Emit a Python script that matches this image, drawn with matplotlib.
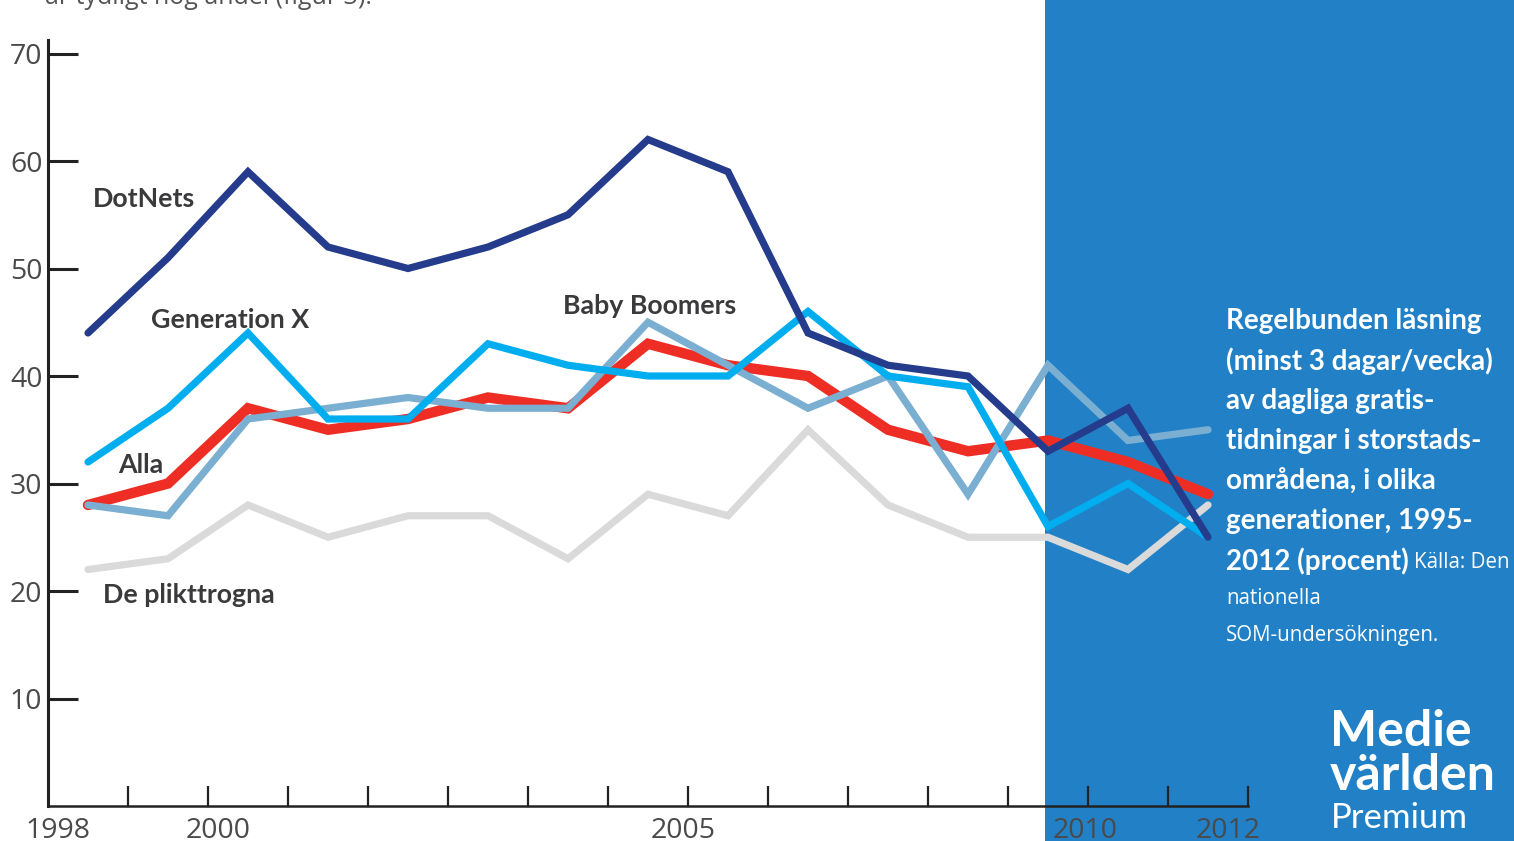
import matplotlib.pyplot as plt
from matplotlib.patches import Rectangle

W, H = 1514, 841

years = list(range(1998, 2013))
dotnets = [44, 51, 59, 52, 50, 52, 55, 62, 59, 44, 41, 40, 33, 37, 25]
gen_x = [32, 37, 44, 36, 36, 43, 41, 40, 40, 46, 40, 39, 26, 30, 25]
alla = [28, 30, 37, 35, 36, 38, 37, 43, 41, 40, 35, 33, 34, 32, 29]
boomers = [28, 27, 36, 37, 38, 37, 37, 45, 41, 37, 40, 29, 41, 34, 35]
plikttrogna = [22, 23, 28, 25, 27, 27, 23, 29, 27, 35, 28, 25, 25, 22, 28]

year_labels = ["1998", "2000", "2005", "2010", "2012"]
year_label_pos = [1997.63, 1999.63, 2005.44, 2010.46, 2012.25]

y_ticks = [10, 20, 30, 40, 50, 60, 70]

PANEL = "#2281c6"
TXT = "#3a3a3c"
AXC = "#222222"
BOLD = ["Lato", "DejaVu Sans"]

plt.rcParams['font.family'] = ['Open Sans', 'DejaVu Sans']

fig = plt.figure(figsize=(W / 100, H / 100), dpi=100)
fig.patch.set_facecolor("white")

# blue panel on the right
fig.patches.append(Rectangle((1045 / W, 0), (W - 1045) / W, 1, transform=fig.transFigure,
                             facecolor=PANEL, edgecolor="none", zorder=-1))

ax = fig.add_axes([48 / W, (H - 806) / H, 1200 / W, (806 - 40) / H])
ax.patch.set_alpha(0)
ax.set_xlim(1997.5, 2012.5)
ax.set_ylim(0, (806 - 40) / 10.75)

series = [
    (plikttrogna, "#dadada", 5.2),
    (alla, "#ee2e24", 7.5),
    (boomers, "#7bafd2", 5.2),
    (gen_x, "#00aeef", 5.2),
    (dotnets, "#253b8c", 5.2),
]
for vals, col, lw in series:
    ax.plot(years, vals, color=col, lw=lw, solid_capstyle="round",
            solid_joinstyle="miter", clip_on=False)

for s in ["top", "right"]:
    ax.spines[s].set_visible(False)
ax.spines["left"].set_linewidth(2.2)
ax.spines["bottom"].set_linewidth(1.8)
ax.spines["left"].set_color(AXC)
ax.spines["bottom"].set_color(AXC)

ax.set_yticks(y_ticks)
ax.set_yticklabels([str(v) for v in y_ticks])
ax.tick_params(axis="y", direction="in", length=21.6, width=2.2, color=AXC,
               labelsize=20.5, labelcolor="#4a4a4a", pad=4)
ax.set_xticks([y + 0.5 for y in years])
ax.set_xticklabels([])
ax.tick_params(axis="x", direction="in", length=14.4, width=1.6, color=AXC)

for lab, pos in zip(year_labels, year_label_pos):
    ax.text(pos, -0.014, lab, transform=ax.get_xaxis_transform(), ha="center", va="top",
            fontsize=20.5, color="#4a4a4a")

# series names
names = [
    ("DotNets", 1998.06, 56.45),
    ("Generation X", 1998.79, 45.2),
    ("Alla", 1998.38, 31.75),
    ("Baby Boomers", 2003.94, 46.5),
    ("De plikttrogna", 1998.19, 19.65),
]
for lab, x, y in names:
    ax.text(x, y, lab, ha="left", va="center", fontsize=19.3, fontweight="bold", color=TXT,
            family=BOLD)

# clipped text from the page above
fig.text(45 / W, 1 - 4 / H, "är tydligt hög andel (figur 3).", ha="left", va="baseline",
         fontsize=18, color="#555555")

# panel text
rubrik = ["Regelbunden läsning", "(minst 3 dagar/vecka)", "av dagliga gratis-",
          "tidningar i storstads-", "områdena, i olika", "generationer, 1995-",
          "2012 (procent)"]
for i, line in enumerate(rubrik):
    fig.text(1226 / W, 1 - (321 + 40 * i) / H, line, ha="left", va="center",
             fontsize=20, fontweight="bold", color="white", family=BOLD)
fig.text(1414 / W, 1 - 562 / H, "Källa: Den", ha="left", va="center", fontsize=14.8, color="white")
fig.text(1226 / W, 1 - 599 / H, "nationella", ha="left", va="center", fontsize=14.8, color="white")
fig.text(1226 / W, 1 - 636 / H, "SOM-undersökningen.", ha="left", va="center", fontsize=14.8,
         color="white")

# logo
fig.text(1330 / W, 1 - 746 / H, "Medie", ha="left", va="baseline", fontsize=36,
         fontweight="bold", color="white", family=BOLD)
fig.text(1330 / W, 1 - 790 / H, "världen", ha="left", va="baseline", fontsize=36,
         fontweight="bold", color="white", family=BOLD)
fig.text(1331 / W, 1 - 828 / H, "Premium", ha="left", va="baseline", fontsize=25,
         color="white", family=BOLD)

fig.savefig("out.png", dpi=100)
